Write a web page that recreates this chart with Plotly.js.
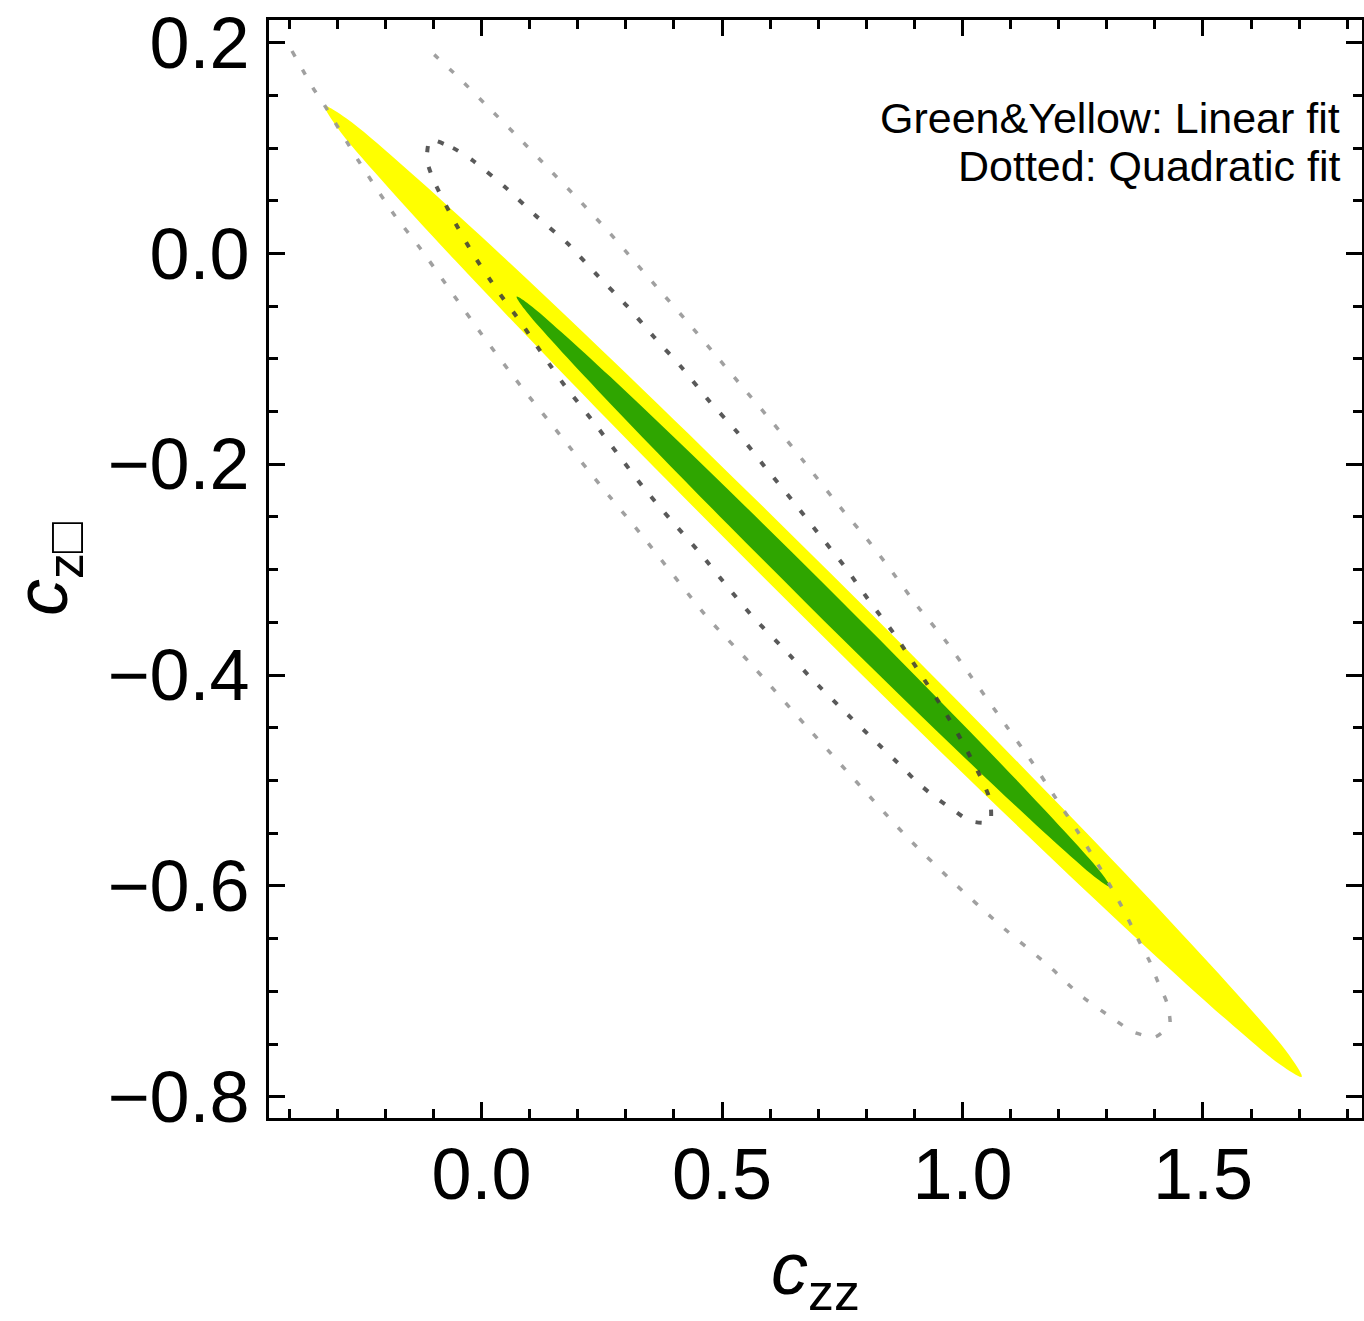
<!DOCTYPE html>
<html>
<head>
<meta charset="utf-8">
<script src="https://cdn.plot.ly/plotly-3.0.1.min.js"></script>
<style>html,body{margin:0;padding:0;background:#fff;}#chart{width:1364px;height:1321px;}</style>
</head>
<body>
<div id="chart"></div>
<script>
// Linear fit, outer (yellow) region boundary: c_ZZ, c_Z□
var yellowX = [1.7052, 1.6801, 1.5875, 1.4338, 1.2294, 0.9882, 0.7267, 0.4626, 0.2141, -0.0020, -0.1711, -0.2813,
               -0.3254, -0.3003, -0.2077, -0.0540, 0.1504, 0.3916, 0.6532, 0.9172, 1.1657, 1.3818, 1.5508, 1.6611, 1.7052];
var yellowY = [-0.7811, -0.7611, -0.7110, -0.6344, -0.5364, -0.4237, -0.3039, -0.1854, -0.0760, 0.0167, 0.0864, 0.1283,
               0.1397, 0.1197, 0.0696, -0.0070, -0.1050, -0.2178, -0.3375, -0.4561, -0.5654, -0.6581, -0.7278, -0.7697, -0.7811];

// Linear fit, inner (green) region boundary
var greenX = [1.3067, 1.2906, 1.2336, 1.1396, 1.0149, 0.8680, 0.7090, 0.5487, 0.3981, 0.2673, 0.1653, 0.0991,
              0.0731, 0.0892, 0.1462, 0.2403, 0.3650, 0.5118, 0.6708, 0.8311, 0.9818, 1.1125, 1.2145, 1.2807, 1.3067];
var greenY = [-0.6008, -0.5890, -0.5589, -0.5127, -0.4533, -0.3849, -0.3122, -0.2400, -0.1734, -0.1168, -0.0742, -0.0483,
              -0.0410, -0.0528, -0.0829, -0.1292, -0.1885, -0.2569, -0.3296, -0.4018, -0.4684, -0.5250, -0.5677, -0.5935, -0.6008];

// Quadratic fit, outer dotted contour (open at the top of the scanned region)
var quadOuterX = [-0.3940, -0.3503, -0.3254, -0.2568, -0.1840, -0.1279, -0.0031, 0.0800, 0.1632, 0.2464, 0.3295, 0.4688,
                  0.5582, 0.6767, 0.8846, 0.9802, 1.0780, 1.1819, 1.2443, 1.3170, 1.3545, 1.4002, 1.4210, 1.4314,
                  1.4252, 1.4064, 1.3898, 1.3690, 1.3316, 1.2859, 1.2401, 1.1923, 1.1445, 1.0925, 1.0156, 0.9636,
                  0.9075, 0.8555, 0.8015, 0.7453, 0.6892, 0.6060, 0.5478, 0.4917, 0.4335, 0.3753, 0.3191, 0.2609,
                  0.1985, 0.1383, 0.0759, 0.0135, -0.0489, -0.1133];
var quadOuterY = [0.1921, 0.1570, 0.1399, 0.0887, 0.0384, 0.0052, -0.0745, -0.1248, -0.1722, -0.2196, -0.2652, -0.3449,
                  -0.3885, -0.4492, -0.5536, -0.5963, -0.6371, -0.6769, -0.7035, -0.7272, -0.7386, -0.7434, -0.7367, -0.7301,
                  -0.7111, -0.6912, -0.6722, -0.6542, -0.6200, -0.5830, -0.5489, -0.5157, -0.4825, -0.4492, -0.3999, -0.3667,
                  -0.3354, -0.3031, -0.2709, -0.2405, -0.2083, -0.1608, -0.1295, -0.0991, -0.0678, -0.0375, -0.0081, 0.0223,
                  0.0527, 0.0811, 0.1105, 0.1390, 0.1675, 0.1950];

// Quadratic fit, inner dotted contour (closed)
var quadInnerX = [-0.1071, -0.0593, -0.0198, 0.0489, 0.1112, 0.1778, 0.2401, 0.3025, 0.3586, 0.4189, 0.4751, 0.5333,
                  0.5894, 0.6455, 0.6996, 0.7557, 0.8077, 0.8597, 0.9075, 0.9574, 1.0010, 1.0405, 1.0572, 1.0572,
                  1.0156, 0.9782, 0.9428, 0.9075, 0.8763, 0.8119, 0.7495, 0.6871, 0.6268, 0.5644, 0.5083, 0.4543,
                  0.3919, 0.3358, 0.2817, 0.2297, 0.1736, 0.1320, 0.0842, 0.0322, -0.0177, -0.0613, -0.1008, -0.1133, -0.1071];
var quadInnerY = [0.1077, 0.1001, 0.0887, 0.0631, 0.0365, 0.0100, -0.0204, -0.0498, -0.0792, -0.1096, -0.1409, -0.1703,
                  -0.2026, -0.2339, -0.2652, -0.2974, -0.3306, -0.3620, -0.3952, -0.4303, -0.4644, -0.4995, -0.5185, -0.5394,
                  -0.5384, -0.5270, -0.5157, -0.5024, -0.4881, -0.4597, -0.4322, -0.4037, -0.3743, -0.3449, -0.3145, -0.2842,
                  -0.2519, -0.2215, -0.1893, -0.1580, -0.1257, -0.0991, -0.0669, -0.0346, -0.0005, 0.0346, 0.0707, 0.0887, 0.1077];

var legendLines = ["Green&amp;Yellow: Linear fit", "Dotted: Quadratic fit"];
var xTitle = "<i>c</i><sub>zz</sub>";
var yTitle = "<i>c</i><sub>z\u25A1</sub>";

var FONT = "Liberation Sans, Arial, Helvetica, sans-serif";

var traces = [
  {x: yellowX, y: yellowY, mode: "lines", fill: "toself", fillcolor: "#ffff00",
   line: {color: "#ffff00", width: 0, shape: "spline", smoothing: 1}, hoverinfo: "skip"},
  {x: greenX, y: greenY, mode: "lines", fill: "toself", fillcolor: "#2fa500",
   line: {color: "#2fa500", width: 0, shape: "spline", smoothing: 1}, hoverinfo: "skip"},
  {x: quadOuterX, y: quadOuterY, mode: "lines",
   line: {color: "rgba(150,150,150,0.9)", width: 3.5, dash: "6px,15px", shape: "spline", smoothing: 0.6}, hoverinfo: "skip"},
  {x: quadInnerX, y: quadInnerY, mode: "lines",
   line: {color: "rgba(60,60,60,0.85)", width: 4, dash: "6px,15px", shape: "spline", smoothing: 0.6}, hoverinfo: "skip"}
];

var axisCommon = {
  showgrid: false, zeroline: false, showline: true, linecolor: "#000", linewidth: 3,
  mirror: "allticks", ticks: "inside", ticklen: 16, tickwidth: 3, tickcolor: "#000",
  tickformat: ".1f", tickfont: {family: FONT, size: 72, color: "#000"}
};

var layout = {
  width: 1364, height: 1321,
  margin: {l: 269, r: 2, t: 20, b: 203, pad: 0},
  paper_bgcolor: "#fff", plot_bgcolor: "#fff",
  showlegend: false,
  xaxis: Object.assign({}, axisCommon, {
    range: [-0.4418, 1.8306], tick0: 0, dtick: 0.5, ticklabelstandoff: -8,
    minor: {tick0: 0, dtick: 0.1, ticks: "inside", ticklen: 9, tickwidth: 3, tickcolor: "#000", showgrid: false},
    title: {text: xTitle, font: {family: FONT, size: 74, color: "#000"}, standoff: 52}
  }),
  yaxis: Object.assign({}, axisCommon, {
    range: [-0.8202, 0.2215], tick0: 0, dtick: 0.2, ticklabelstandoff: 2,
    minor: {tick0: 0, dtick: 0.05, ticks: "inside", ticklen: 9, tickwidth: 3, tickcolor: "#000", showgrid: false},
    title: {text: yTitle, font: {family: FONT, size: 74, color: "#000"}, standoff: 36}
  }),
  annotations: [
    {xref: "paper", yref: "paper", x: 0.9817, y: 0.9107, xanchor: "right", yanchor: "middle", showarrow: false,
     text: legendLines[0], font: {family: FONT, size: 43, color: "#000"}},
    {xref: "paper", yref: "paper", x: 0.9817, y: 0.8670, xanchor: "right", yanchor: "middle", showarrow: false,
     text: legendLines[1], font: {family: FONT, size: 43, color: "#000"}}
  ]
};

Plotly.newPlot("chart", traces, layout, {staticPlot: true, displayModeBar: false});
</script>
</body>
</html>
